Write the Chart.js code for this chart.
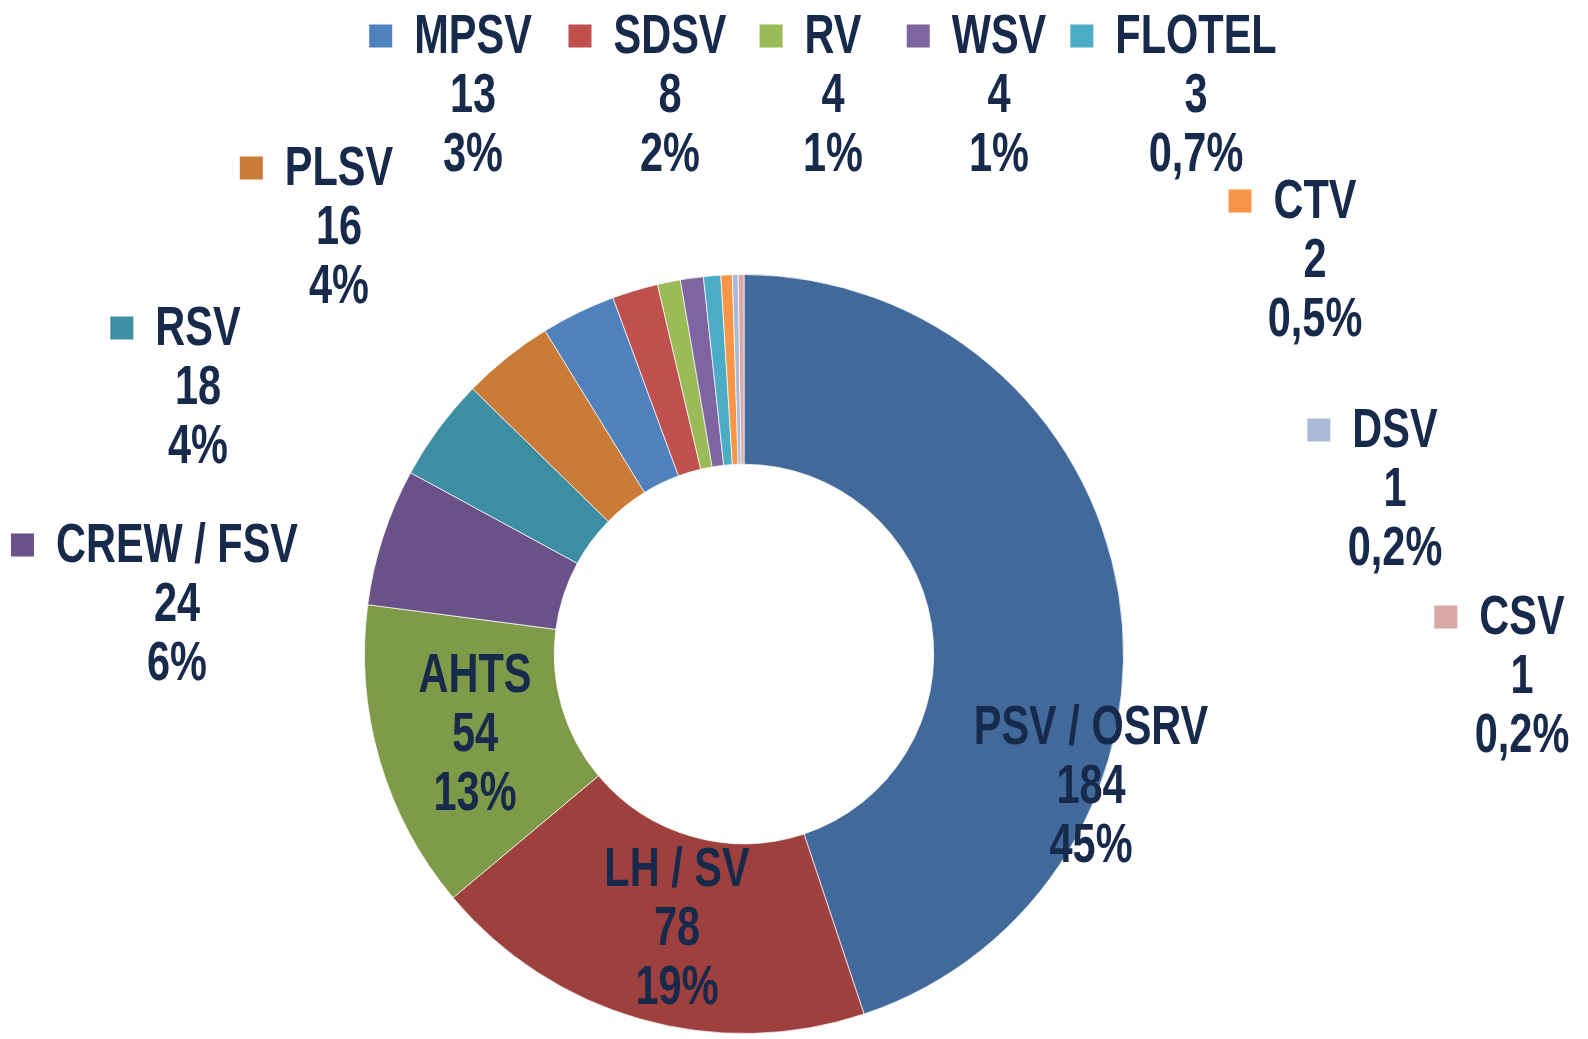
<!DOCTYPE html>
<html>
<head>
<meta charset="utf-8">
<script src="https://cdn.jsdelivr.net/npm/chart.js@4/dist/chart.umd.min.js"></script>
<style>
  html, body { margin: 0; padding: 0; background: #fff; }
  #wrap { width: 1588px; height: 1039px; }
</style>
</head>
<body>
<div id="wrap"><canvas id="myChart" width="1588" height="1039"></canvas></div>
<script>
// vessel types and counts
const categories = ['PSV / OSRV', 'LH / SV', 'AHTS', 'CREW / FSV', 'RSV', 'PLSV', 'MPSV',
                    'SDSV', 'RV', 'WSV', 'FLOTEL', 'CTV', 'DSV', 'CSV'];
const counts = [184, 78, 54, 24, 18, 16, 13, 8, 4, 4, 3, 2, 1, 1];

const sliceColors = ['#416A9B', '#9E413E', '#7F9A48', '#6A5187', '#3D8DA3', '#CB7B38', '#4F81BD',
                     '#C0504D', '#9BBB59', '#8064A2', '#4BACC6', '#F79646', '#A9B9D8', '#D9A8A7'];

// label placement: [x offset of text centre, y offset of first line] from the doughnut centre,
// and whether the label sits outside (with a colour key)
const labelPos = [
    [347, 75, false], [-67, 217, false], [-269, 23, false], [-567, -107, true],
    [-546, -324, true], [-405, -484, true], [-271, -616, true], [-74, -616, true],
    [89, -616, true], [255, -616, true], [452, -616, true], [571, -451, true],
    [651, -222, true], [778, -35, true]
];

const textColor = '#172A4B';
const fontFamily = '"Liberation Sans", Arial, sans-serif';
const squeeze = 0.83;   // narrow look, no condensed face installed

function pctLabel(v, total) {
    const p = v / total * 100;
    if (p < 0.95) return p.toFixed(1).replace('.', ',') + '%';
    return Math.round(p) + '%';
}

const labelPlugin = {
    id: 'sliceLabels',
    afterDatasetsDraw(chart) {
        const meta = chart.getDatasetMeta(0);
        const c = chart.ctx;
        const cx = meta.data[0].x, cy = meta.data[0].y;
        const total = counts.reduce((a, b) => a + b, 0);
        const lineH = 59;
        const fontSize = 50;
        c.save();
        c.font = 'bold ' + fontSize + 'px ' + fontFamily;
        c.fillStyle = textColor;
        c.textAlign = 'center';
        c.textBaseline = 'middle';
        categories.forEach((name, i) => {
            const [dx, dy, outside] = labelPos[i];
            const x = cx + dx, y = cy + dy;
            const lines = [name, String(counts[i]), pctLabel(counts[i], total)];
            lines.forEach((t, k) => {
                c.save();
                c.translate(x, y + k * lineH);
                c.scale(squeeze, 1.1);
                c.fillText(t, 0, 0);
                c.restore();
            });
            if (outside) {
                const w = c.measureText(name).width * squeeze;
                const sz = 23;
                c.fillStyle = sliceColors[i];
                c.fillRect(x - w / 2 - 22 - sz, y - sz / 2 - 2, sz, sz);
                c.fillStyle = textColor;
            }
        });
        c.restore();
    }
};

new Chart(document.getElementById('myChart'), {
    type: 'doughnut',
    data: {
        labels: categories,
        datasets: [{
            data: counts,
            backgroundColor: sliceColors,
            borderColor: 'rgba(255,255,255,0.7)',
            borderWidth: 1
        }]
    },
    options: {
        responsive: false,
        animation: false,
        cutout: '50%',
        layout: { padding: { top: 274, bottom: 5, left: 364, right: 464 } },
        plugins: {
            legend: { display: false },
            tooltip: { enabled: false }
        }
    },
    plugins: [labelPlugin]
});
</script>
</body>
</html>
